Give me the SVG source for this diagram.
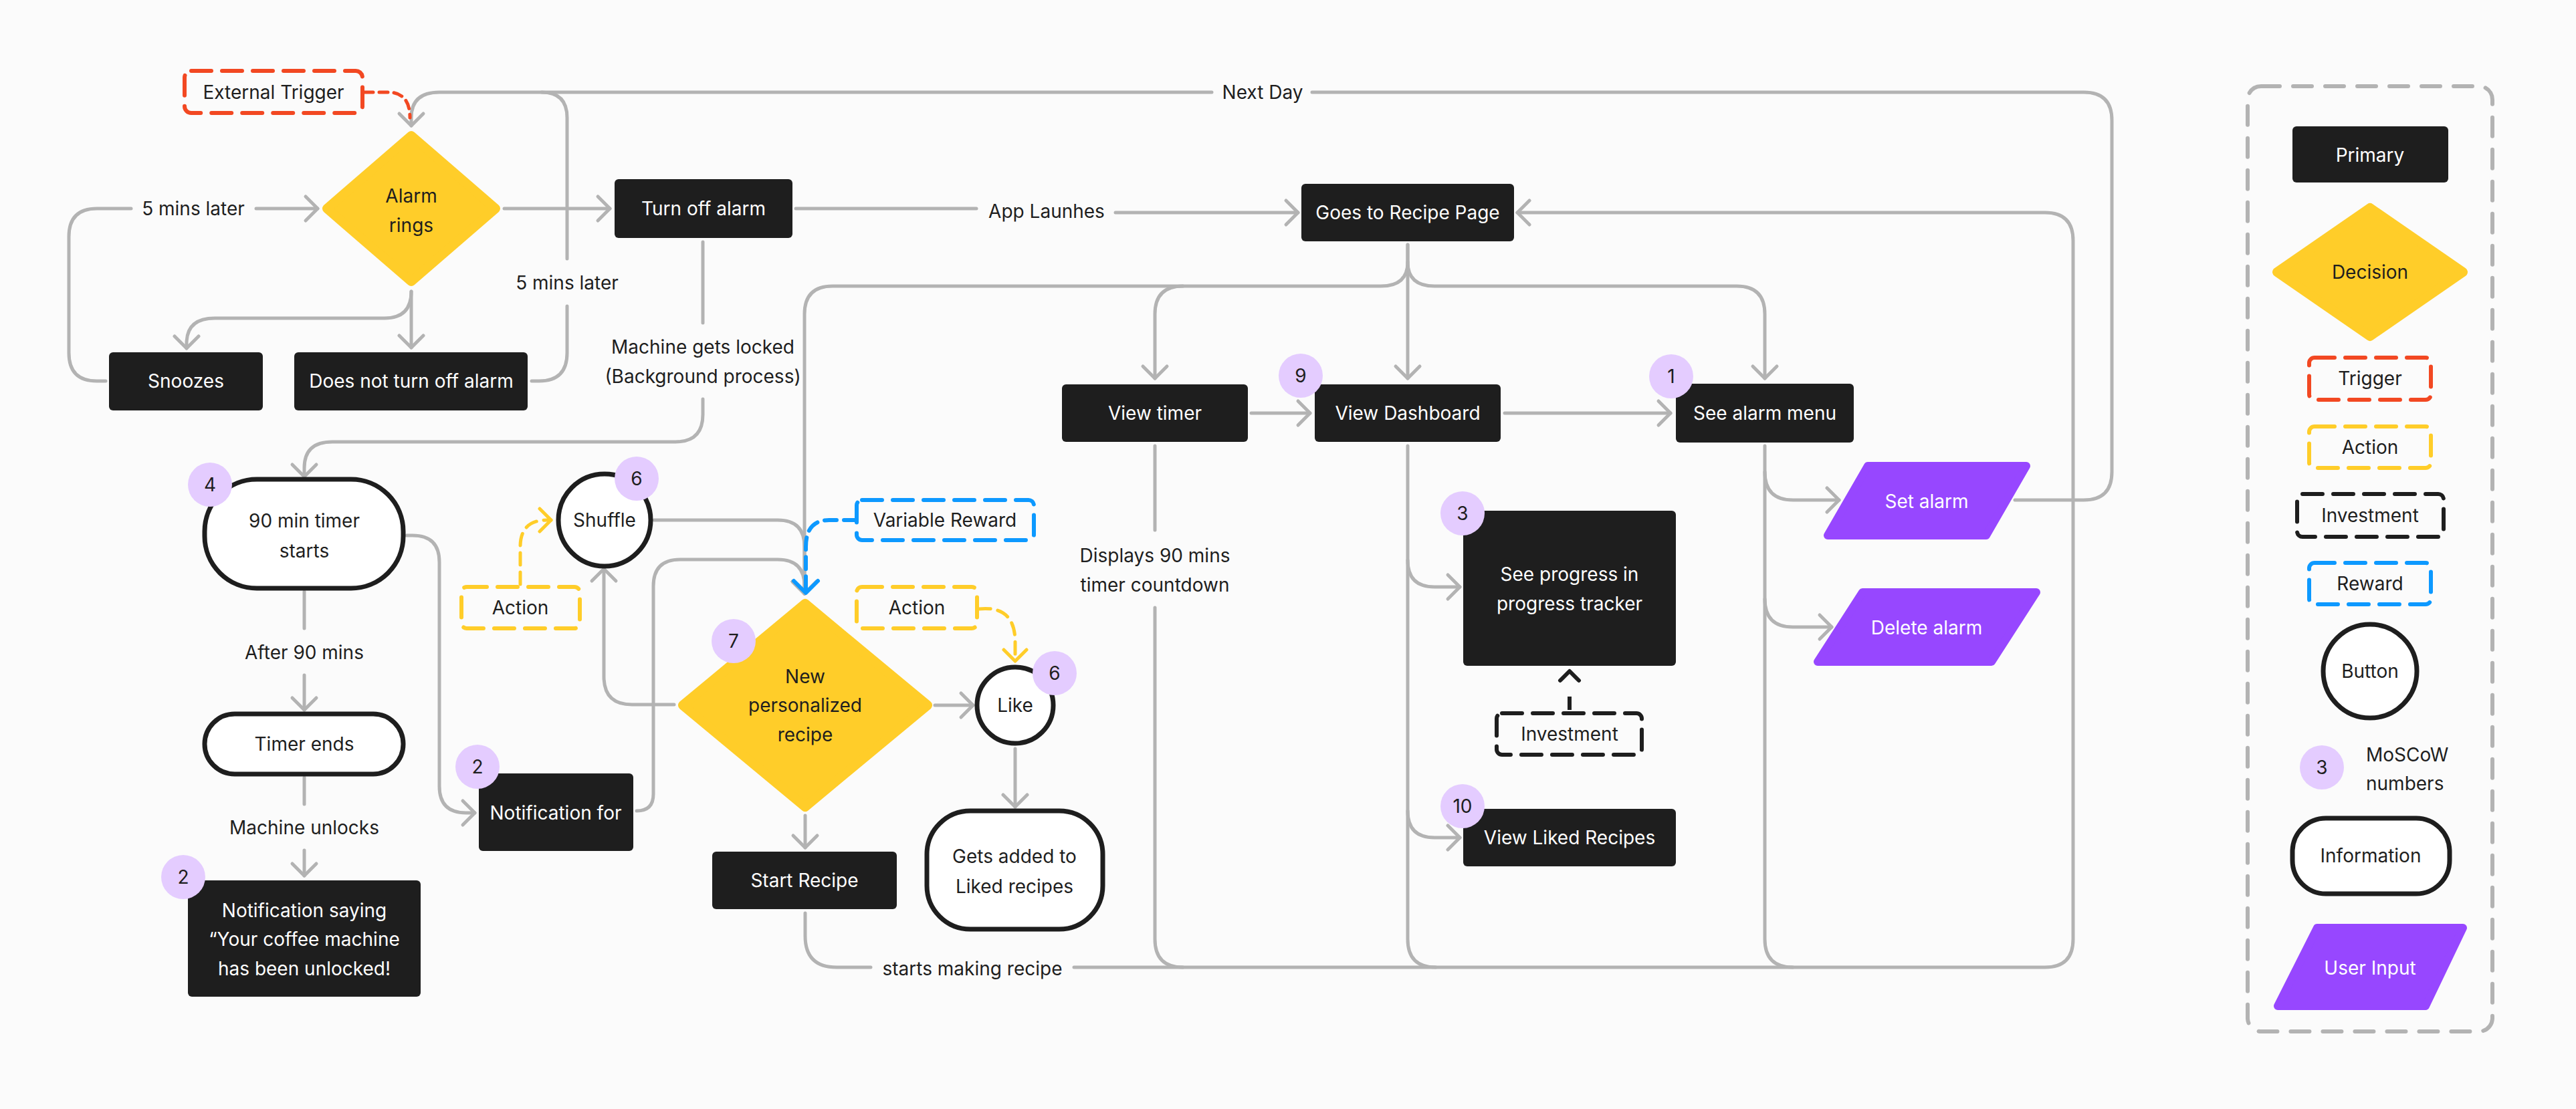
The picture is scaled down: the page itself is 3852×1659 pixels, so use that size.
<svg xmlns="http://www.w3.org/2000/svg" width="3852" height="1659" viewBox="0 0 3852 1659">
<style>
text{font-family:Inter,"Noto Sans","Liberation Sans",sans-serif;font-size:28px;text-anchor:middle;dominant-baseline:central;fill:#1E1E1E}
.w{fill:#FFFFFF}
.p{fill:#1E1E1E;rx:6px}
.info{fill:#FFFFFF;stroke:#1E1E1E;stroke-width:7}
.dec{fill:#FFCD29;stroke:#FFCD29;stroke-width:14;stroke-linejoin:round}
.inp{fill:#9747FF;stroke:#9747FF;stroke-width:12;stroke-linejoin:round}
.badge{fill:#E4CCFF}
.dash{fill:none;stroke-width:6;stroke-dasharray:30 16;stroke-linecap:round}
.red{stroke:#F24822}.yel{stroke:#FFCD29}.blu{stroke:#0D99FF}.blk{stroke:#1E1E1E}
.c path{fill:none;stroke:#B3B3B3;stroke-width:5;stroke-linecap:round}
.c path.a{marker-end:url(#ag)}
.ann{fill:none;stroke-width:5;stroke-dasharray:14 10;stroke-linecap:round}
</style>
<defs>
<marker id="ag" markerUnits="userSpaceOnUse" markerWidth="60" markerHeight="60" viewBox="-30 -30 60 60" refX="0" refY="0" orient="auto" overflow="visible"><path d="M-18,-18 L0,0 L-18,18" fill="none" stroke="#B3B3B3" stroke-width="5" stroke-linecap="round" stroke-linejoin="round"/></marker>
<marker id="ay" markerUnits="userSpaceOnUse" markerWidth="60" markerHeight="60" viewBox="-30 -30 60 60" refX="0" refY="0" orient="auto" overflow="visible"><path d="M-17,-17 L0,0 L-17,17" fill="none" stroke="#FFCD29" stroke-width="5" stroke-linecap="round" stroke-linejoin="round"/></marker>
<marker id="ab" markerUnits="userSpaceOnUse" markerWidth="60" markerHeight="60" viewBox="-30 -30 60 60" refX="0" refY="0" orient="auto" overflow="visible"><path d="M-18,-18 L0,0 L-18,18" fill="none" stroke="#0D99FF" stroke-width="6" stroke-linecap="round" stroke-linejoin="round"/></marker>
<marker id="ak" markerUnits="userSpaceOnUse" markerWidth="60" markerHeight="60" viewBox="-30 -30 60 60" refX="0" refY="0" orient="auto" overflow="visible"><path d="M-14,-14 L0,0 L-14,14" fill="none" stroke="#1E1E1E" stroke-width="6" stroke-linecap="round" stroke-linejoin="round"/></marker>
</defs>
<rect x="0" y="0" width="3852" height="1659" fill="#FBFBFB"/>

<g id="connectors" class="c">
<path d="M3013,748 H3116 Q3158,748 3158,706 V180 Q3158,138 3116,138 H1962"/>
<path class="a" d="M1812,138 H657 Q615,138 615,176 L615,188"/>
<path d="M795,570 H806 Q848,570 848,528 V458"/>
<path d="M848,387 V176 Q848,138 810,138"/>
<path d="M158,570 H145 Q103,570 103,528 V354 Q103,312 145,312 H196"/>
<path class="a" d="M383,312 H475"/>
<path class="a" d="M754,312 H912"/>
<path class="a" d="M615,436 V520"/>
<path class="a" d="M615,436 Q615,476 575,476 H321 Q279,476 279,514 L279,521"/>
<path d="M1190,312 H1460"/>
<path class="a" d="M1668,318 H1941"/>
<path d="M1051,362 V483"/>
<path class="a" d="M1051,597 V620 Q1051,661 1010,661 H497 Q455,661 455,700 L455,713"/>
<path d="M455,885 V940"/>
<path class="a" d="M455,1010 V1062"/>
<path d="M455,1163 V1203"/>
<path class="a" d="M455,1272 V1310"/>
<path class="a" d="M608,801 H617 Q657,801 657,841 V1176 Q657,1216 697,1216 L710,1216"/>
<path class="a" d="M952,1213 Q977,1213 977,1188 V877 Q977,837 1017,837 H1163 Q1203,837 1203,877 L1203,888"/>
<path class="a" d="M978,778 H1163 Q1203,778 1203,818 L1203,888"/>
<path class="a" d="M2105,366 V392 Q2105,428 2065,428 H1245 Q1203,428 1203,470 L1203,888"/>
<path class="a" d="M1769,428 Q1727,428 1727,470 L1727,566"/>
<path class="a" d="M2105,366 V566"/>
<path class="a" d="M2105,392 Q2105,428 2145,428 H2597 Q2639,428 2639,470 L2639,566"/>
<path class="a" d="M1871,618 H1959"/>
<path class="a" d="M2250,618 H2498"/>
<path d="M1727,667 V793"/>
<path d="M1727,909 V1405 Q1727,1447 1769,1447"/>
<path d="M2105,667 V1405 Q2105,1447 2147,1447"/>
<path class="a" d="M2105,838 Q2105,878 2145,878 L2183,878"/>
<path class="a" d="M2105,1213 Q2105,1253 2145,1253 L2183,1253"/>
<path d="M2639,667 V1405 Q2639,1447 2681,1447"/>
<path class="a" d="M2639,706 Q2639,748 2681,748 L2750,748"/>
<path class="a" d="M2639,896 Q2639,938 2681,938 L2739,938"/>
<path d="M1204,1366 V1400 Q1204,1447 1251,1447 H1302"/>
<path class="a" d="M1606,1447 H3058 Q3100,1447 3100,1405 V360 Q3100,318 3058,318 L2269,318"/>
<path class="a" d="M1398,1055 H1455"/>
<path class="a" d="M1204,1220 V1268"/>
<path class="a" d="M1518,1120 V1207"/>
<path class="a" d="M1008,1054 H945 Q903,1054 903,1012 L903,851"/>
<path d="M545,138 H583 Q613,140 613,176" style="stroke:#F24822;stroke-width:5;stroke-dasharray:13 9"/>
<path d="M778,874 V818 Q778,778 818,778 L824,778" style="stroke:#FFCD29;stroke-width:5;stroke-dasharray:18 11;marker-end:url(#ay)"/>
<path d="M1463,911 Q1518,905 1518,960 L1518,989" style="stroke:#FFCD29;stroke-width:5;stroke-dasharray:18 11;marker-end:url(#ay)"/>
<path d="M1280,778 H1240 Q1205,778 1205,818 L1205,887" style="stroke:#0D99FF;stroke-width:6;stroke-dasharray:18 11;marker-end:url(#ab)"/>
<path d="M2347,1062 V1004" style="stroke:#1E1E1E;stroke-width:6;stroke-dasharray:20 60;stroke-linecap:butt;marker-end:url(#ak)"/>
</g>

<g id="edge-labels">
<text x="1888" y="138">Next Day</text>
<text x="289" y="312">5 mins later</text>
<text x="848" y="423">5 mins later</text>
<text x="1565" y="316">App Launhes</text>
<text x="1051" y="519">Machine gets locked</text>
<text x="1051" y="563">(Background process)</text>
<text x="455" y="976">After 90 mins</text>
<text x="455" y="1238">Machine unlocks</text>
<text x="1727" y="831">Displays 90 mins</text>
<text x="1727" y="875">timer countdown</text>
<text x="1454" y="1449">starts making recipe</text>
</g>

<g id="external-trigger"><rect class="dash red" x="276" y="106" width="266" height="63" rx="10"/><text x="409" y="138">External Trigger</text></g>
<g id="alarm-rings"><polygon class="dec" points="615,203 741,312 615,421 489,312"/><text x="615" y="293">Alarm</text><text x="615" y="337">rings</text></g>
<g id="snoozes"><rect class="p" x="163" y="527" width="230" height="87"/><text class="w" x="278" y="570">Snoozes</text></g>
<g id="not-turn-off"><rect class="p" x="440" y="527" width="349" height="87"/><text class="w" x="615" y="570">Does not turn off alarm</text></g>
<g id="turn-off-alarm"><rect class="p" x="919" y="268" width="266" height="88"/><text class="w" x="1052" y="312">Turn off alarm</text></g>
<g id="recipe-page"><rect class="p" x="1946" y="275" width="318" height="86"/><text class="w" x="2105" y="318">Goes to Recipe Page</text></g>
<g id="view-timer"><rect class="p" x="1588" y="575" width="278" height="86"/><text class="w" x="1727" y="618">View timer</text></g>
<g id="view-dashboard"><rect class="p" x="1966" y="575" width="278" height="86"/><text class="w" x="2105" y="618">View Dashboard</text><circle class="badge" cx="1945" cy="562" r="33"/><text x="1945" y="562">9</text></g>
<g id="alarm-menu"><rect class="p" x="2506" y="574" width="266" height="88"/><text class="w" x="2639" y="618">See alarm menu</text><circle class="badge" cx="2499" cy="563" r="33"/><text x="2499" y="563">1</text></g>
<g id="set-alarm"><polygon class="inp" points="2793,697 3030,697 2970,801 2733,801"/><text class="w" x="2881" y="750">Set alarm</text></g>
<g id="delete-alarm"><polygon class="inp" points="2785,886 3045,886 2978,990 2718,990"/><text class="w" x="2881" y="939">Delete alarm</text></g>
<g id="progress"><rect class="p" x="2188" y="764" width="318" height="232" rx="8"/><text class="w" x="2347" y="859">See progress in</text><text class="w" x="2347" y="903">progress tracker</text><circle class="badge" cx="2187" cy="768" r="33"/><text x="2187" y="768">3</text></g>
<g id="investment"><rect class="dash blk" x="2238" y="1067" width="217" height="62" rx="8"/><text x="2347" y="1098">Investment</text></g>
<g id="liked-recipes"><rect class="p" x="2188" y="1210" width="318" height="86"/><text class="w" x="2347" y="1253">View Liked Recipes</text><circle class="badge" cx="2187" cy="1206" r="33"/><text x="2187" y="1206">10</text></g>
<g id="timer-starts"><rect class="info" x="306" y="717" width="297" height="163" rx="78"/><text x="455" y="779">90 min timer</text><text x="455" y="824">starts</text><circle class="badge" cx="314" cy="725" r="33"/><text x="314" y="725">4</text></g>
<g id="timer-ends"><rect class="info" x="306" y="1068" width="297" height="90" rx="45"/><text x="455" y="1113">Timer ends</text></g>
<g id="notification-unlocked"><rect class="p" x="281" y="1317" width="348" height="174" rx="8"/><text class="w" x="455" y="1362">Notification saying</text><text class="w" x="455" y="1405">“Your coffee machine</text><text class="w" x="455" y="1449">has been unlocked!</text><circle class="badge" cx="274" cy="1312" r="33"/><text x="274" y="1312">2</text></g>
<g id="notification-for"><rect class="p" x="716" y="1157" width="231" height="116" rx="8"/><text class="w" x="831" y="1216">Notification for</text><circle class="badge" cx="714" cy="1147" r="33"/><text x="714" y="1147">2</text></g>
<g id="shuffle"><circle class="info" cx="904" cy="778" r="69"/><text x="904" y="778">Shuffle</text><circle class="badge" cx="952" cy="716" r="33"/><text x="952" y="716">6</text></g>
<g id="action-shuffle"><rect class="dash yel" x="690" y="878" width="177" height="62" rx="8"/><text x="778" y="909">Action</text></g>
<g id="variable-reward"><rect class="dash blu" x="1281" y="748" width="265" height="60" rx="8"/><text x="1413" y="778">Variable Reward</text></g>
<g id="action-like"><rect class="dash yel" x="1281" y="878" width="180" height="62" rx="8"/><text x="1371" y="909">Action</text></g>
<g id="new-recipe"><polygon class="dec" points="1204,903 1387,1055 1204,1207 1021,1055"/><text x="1204" y="1012">New</text><text x="1204" y="1055">personalized</text><text x="1204" y="1099">recipe</text><circle class="badge" cx="1097" cy="959" r="33"/><text x="1097" y="959">7</text></g>
<g id="like"><circle class="info" cx="1518" cy="1055" r="57"/><text x="1518" y="1055">Like</text><circle class="badge" cx="1577" cy="1007" r="33"/><text x="1577" y="1007">6</text></g>
<g id="liked-added"><rect class="info" x="1386" y="1213" width="263" height="177" rx="65"/><text x="1517" y="1281">Gets added to</text><text x="1517" y="1326">Liked recipes</text></g>
<g id="start-recipe"><rect class="p" x="1065" y="1274" width="276" height="86"/><text class="w" x="1203" y="1317">Start Recipe</text></g>

<g id="legend">
<rect x="3361" y="129" width="366" height="1414" rx="20" fill="none" stroke="#B3B3B3" stroke-width="6" stroke-dasharray="28 20" stroke-linecap="round"/>
<rect class="p" x="3428" y="189" width="233" height="84"/><text class="w" x="3544" y="232">Primary</text>
<polygon class="dec" points="3544,311 3683,407 3544,503 3405,407"/><text x="3544" y="407">Decision</text>
<rect class="dash red" x="3453" y="535" width="182" height="63" rx="8"/><text x="3544" y="566">Trigger</text>
<rect class="dash yel" x="3453" y="638" width="182" height="62" rx="8"/><text x="3544" y="669">Action</text>
<rect class="dash blk" x="3435" y="739" width="219" height="64" rx="8"/><text x="3544" y="771">Investment</text>
<rect class="dash blu" x="3453" y="842" width="182" height="62" rx="8"/><text x="3544" y="873">Reward</text>
<circle class="info" cx="3544" cy="1004" r="70"/><text x="3544" y="1004">Button</text>
<circle class="badge" cx="3472" cy="1148" r="33"/><text x="3472" y="1148">3</text>
<text x="3538" y="1129" style="text-anchor:start">MoSCoW</text><text x="3538" y="1172" style="text-anchor:start">numbers</text>
<rect class="info" x="3428" y="1224" width="235" height="113" rx="50"/><text x="3545" y="1280">Information</text>
<polygon class="inp" points="3465,1388 3683,1388 3627,1505 3406,1505"/><text class="w" x="3544" y="1448">User Input</text>
</g>
</svg>
